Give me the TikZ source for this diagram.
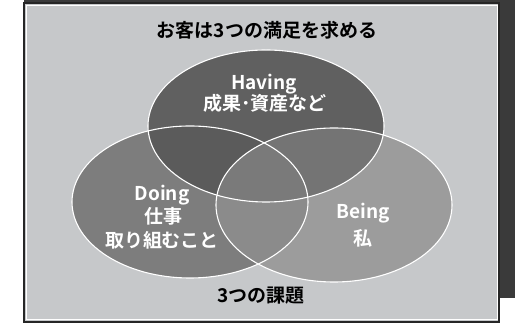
\documentclass[tikz,border=0pt]{standalone}
\usepackage{fontspec}
\setmainfont{Noto Sans CJK JP}[BoldFont={Noto Sans CJK JP Bold}]
\usepackage{pdfrender}
\definecolor{panel}{HTML}{C6C8CA}
\definecolor{shadow}{HTML}{3A3A3A}
\definecolor{hav}{HTML}{606060}
\definecolor{doi}{HTML}{7D7D7D}
\definecolor{bei}{HTML}{9C9C9C}
\definecolor{hd}{HTML}{5B5B5B}
\definecolor{hb}{HTML}{747474}
\definecolor{db}{HTML}{8B8B8B}
\definecolor{hdb}{HTML}{7A7A7A}
\definecolor{outl}{HTML}{252525}
\newcommand{\outlined}[1]{\textpdfrender{TextRenderingMode=FillStroke,LineWidth=1.3pt,StrokeColor=outl,FillColor=white}{#1}}
\begin{document}
\begin{tikzpicture}[x=1pt,y=-1pt,
  dark/.style={font=\bfseries\fontsize{19}{22}\selectfont, text=black, anchor=base, inner sep=0pt},
  lbl/.style={font=\bfseries\fontsize{19}{22}\selectfont, text=white, anchor=base, inner sep=0pt},
  ring/.style={draw=white, line width=1.1pt}]
\useasboundingbox (0,0) rectangle (515,328);
% shadow and top strip
\fill[shadow] (499,0) rectangle (515,298);
\fill[shadow] (24,0) rectangle (515,4);
% panel
\draw[fill=panel, line width=1.3pt, draw=black!85] (24,3) rectangle (499,322);
\draw[white, line width=0.6pt] (26.5,5) rectangle (497,319.5);
% ellipses
\def\Hav{(266,126) ellipse [x radius=118pt, y radius=76pt]}
\def\Doi{(190,202) ellipse [x radius=118pt, y radius=76pt]}
\def\Bei{(334,205) ellipse [x radius=118pt, y radius=77pt]}
\fill[doi] \Doi;
\fill[bei] \Bei;
\fill[hav] \Hav;
\begin{scope}\clip \Doi; \fill[hd] \Hav; \end{scope}
\begin{scope}\clip \Bei; \fill[hb] \Hav; \end{scope}
\begin{scope}\clip \Doi; \fill[db] \Bei; \end{scope}
\begin{scope}\clip \Doi; \clip \Bei; \fill[hdb] \Hav; \end{scope}
\draw[ring] \Hav;
\draw[ring] \Doi;
\draw[ring] \Bei;
% texts
\node[dark] (title) at (267,38) {お客は3つの満足を求める};
\node[dark] (tasks) at (261,303) {3つの課題};
\node[lbl] (having) at (264,90) {\outlined{Having}};
\node[lbl] (havingj) at (265,111) {\outlined{成果･資産など}};
\node[lbl] (doing) at (162,201) {\outlined{Doing}};
\node[lbl] (doingj1) at (163,224) {\outlined{仕事}};
\node[lbl] (doingj2) at (162,248) {\outlined{取り組むこと}};
\node[lbl] (being) at (363,219) {\outlined{Being}};
\node[lbl] (beingj) at (363,246) {\outlined{私}};
\end{tikzpicture}
\end{document}
